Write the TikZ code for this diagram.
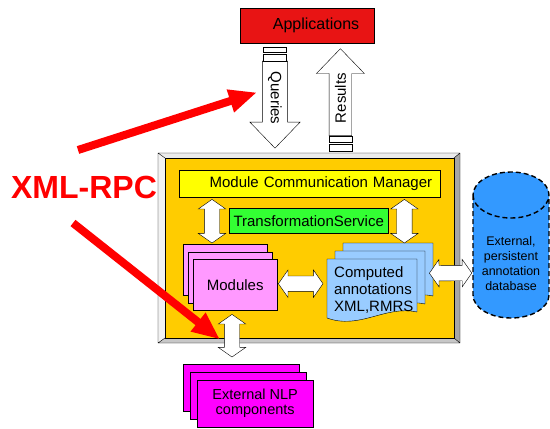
\documentclass[tikz,border=0pt]{standalone}
\usepackage{fontspec}
\setmainfont{Liberation Sans}
\usetikzlibrary{shapes.arrows,shadows,calc,arrows.meta}

\definecolor{appred}{HTML}{E81414}
\definecolor{coreorange}{HTML}{FFCC00}
\definecolor{mcmyellow}{HTML}{FFFF00}
\definecolor{tsgreen}{HTML}{33FF33}
\definecolor{modpink}{HTML}{FF99FF}
\definecolor{annblue}{HTML}{99CCFF}
\definecolor{nlpmagenta}{HTML}{FF00FF}
\definecolor{dbblue}{HTML}{3399FF}

% Flecha doble entre dos puntos.
\newcommand\dblconn[2]{%
  \path let \p1=#1, \p2=#2,
    \n1={veclen(\x2-\x1,\y2-\y1)}, \n2={atan2(\y2-\y1,\x2-\x1)} in
    node[dblarrow,minimum height=\n1,rotate=\n2] at ($(\p1)!.5!(\p2)$) {};}

\begin{document}
\begin{tikzpicture}[x=1pt,y=-1pt,
    every node/.style={font=\fontsize{15}{17}\selectfont},
    box/.style={draw,thin,inner sep=0pt},
    dblarrow/.style={double arrow,draw,fill=white,thin,inner xsep=0pt,inner ysep=7.5pt,
        minimum width=27pt,double arrow head extend=6pt,
        double arrow tip angle=110,double arrow head indent=0pt},
    bigarrow/.style={single arrow,draw,fill=white,thin,inner xsep=0pt,inner ysep=5.5pt,
        minimum width=48pt,minimum height=87pt,single arrow head extend=12.5pt,
        single arrow tip angle=88,single arrow head indent=0pt},
    rpc/.style={red,line width=8pt,-{Triangle[length=28pt,width=22pt]}}]
    \useasboundingbox (0,0) rectangle (550,429);

    % Marco con bisel.
    \fill[white!95!black] (158,153) -- (165,158) -- (165,338) -- (158,343) -- cycle;
    \fill[white!92!black] (158,153) -- (460,153) -- (454,158) -- (165,158) -- cycle;
    \fill[black!35] (460,153) -- (460,343) -- (454,338) -- (454,158) -- cycle;
    \fill[black!22] (158,343) -- (460,343) -- (454,338) -- (165,338) -- cycle;
    \draw[thin] (158,153) rectangle (460,343)
        (158,153) -- (165,158) (460,153) -- (454,158)
        (460,343) -- (454,338) (158,343) -- (165,338);
    \node[box,fill=coreorange,anchor=north west,minimum width=289pt,
        minimum height=180pt] (core) at (165,158) {};

    \node[box,fill=appred,anchor=north west,minimum width=134pt,minimum height=35pt,
        inner xsep=15pt,text width=104pt,align=right,
        font=\fontsize{16}{18}\selectfont] (app) at (240,8) {Applications};
    \node[box,fill=mcmyellow,anchor=north west,minimum width=261pt,minimum height=27pt,
        inner xsep=8pt,text width=245pt,align=right] (mcm) at (179,170)
        {Module Communication Manager};
    \node[box,fill=tsgreen,anchor=north west,minimum width=159pt,minimum height=25pt]
        (ts) at (229,208) {TransformationService};
    \node[box,fill=modpink,anchor=north west,minimum width=84pt,minimum height=51pt,
        double copy shadow={shadow xshift=-5pt,shadow yshift=7.5pt,
        fill=modpink,draw=black,thin}] (mod) at (193,259) {Modules};

    % Hojas de anotaciones.
    \foreach \s in {16,8,0} {
        \draw[fill=annblue,thin,shift={(\s,-\s)}] (327,318) -- (327,259)
            -- (417,259) -- (417,312) .. controls (385,305) and (360,330) .. (327,318)
            -- cycle;
    }
    \node[anchor=north west,minimum width=90pt,minimum height=62pt,inner xsep=7pt,
        text width=76pt,align=left] (comp) at (327,259)
        {Computed\\annotations\\XML,RMRS};

    % Base de datos externa.
    \draw[fill=dbblue,line width=1.4pt,dash pattern=on 5pt off 3pt]
        (473,195) -- (473,295)
        arc[start angle=180,end angle=360,x radius=38pt,y radius=23pt]
        -- (549,195)
        arc[start angle=0,end angle=180,x radius=38pt,y radius=23pt] -- cycle
        (473,195) arc[start angle=180,end angle=360,x radius=38pt,y radius=23pt];
    \node[minimum width=76pt,inner sep=0pt,align=center,
        font=\fontsize{12.5}{15}\selectfont] (db) at (511,264)
        {External,\\persistent\\annotation\\database};

    \node[box,fill=nlpmagenta,anchor=north west,minimum width=116pt,minimum height=47pt,
        align=center,font=\fontsize{14.5}{15}\selectfont,
        double copy shadow={shadow xshift=-7pt,shadow yshift=8pt,
        fill=nlpmagenta,draw=black,thin}] (nlp) at (197,380)
        {External NLP\\components};

    \dblconn{($(mcm.south west)+(33,2)$)}{($(mod.north west)+(19,-16)$)}
    \dblconn{($(mcm.south east)+(-36,2)$)}{($(comp.north east)+(-13,-16)$)}
    \dblconn{($(mod.east)+(1,-1)$)}{($(comp.west)+(-4,-6.5)$)}
    \dblconn{($(comp.east)+(12,-17)$)}{($(db.west)+(-1,9)$)}
    \dblconn{($(mod.south west)+(39,4)$)}{($(nlp.north west)+(35,-23)$)}

    % Consultas y resultados.
    \node[bigarrow,rotate=-90,anchor=tip] (qry) at ($(app.south west)+(35,105)$) {Queries};
    \node[bigarrow,rotate=90,anchor=tip] (res) at ($(app.south east)+(-34,5)$) {Results};
    \draw[thin,fill=white] ($(qry.tail)+(-11.5,-13.5)$) rectangle ($(qry.tail)+(11.5,-9)$)
        ($(qry.tail)+(-11.5,-6.5)$) rectangle ($(qry.tail)+(11.5,0)$);
    \draw[thin,fill=white] ($(res.tail)+(-11.5,0)$) rectangle ($(res.tail)+(11.5,6.5)$)
        ($(res.tail)+(-11.5,8.5)$) rectangle ($(res.tail)+(11.5,15)$);

    \node[red,font=\bfseries\fontsize{32}{36}\selectfont] (xmlrpc) at (84,187) {XML-RPC};
    \draw[rpc] ($(xmlrpc.center)+(-6,-37)$) -- ($(qry.tip)+(-18,-56)$);
    \draw[rpc] ($(xmlrpc.center)+(-11,36)$) -- ($(mod.south west)+(27,29)$);
\end{tikzpicture}
\end{document}
